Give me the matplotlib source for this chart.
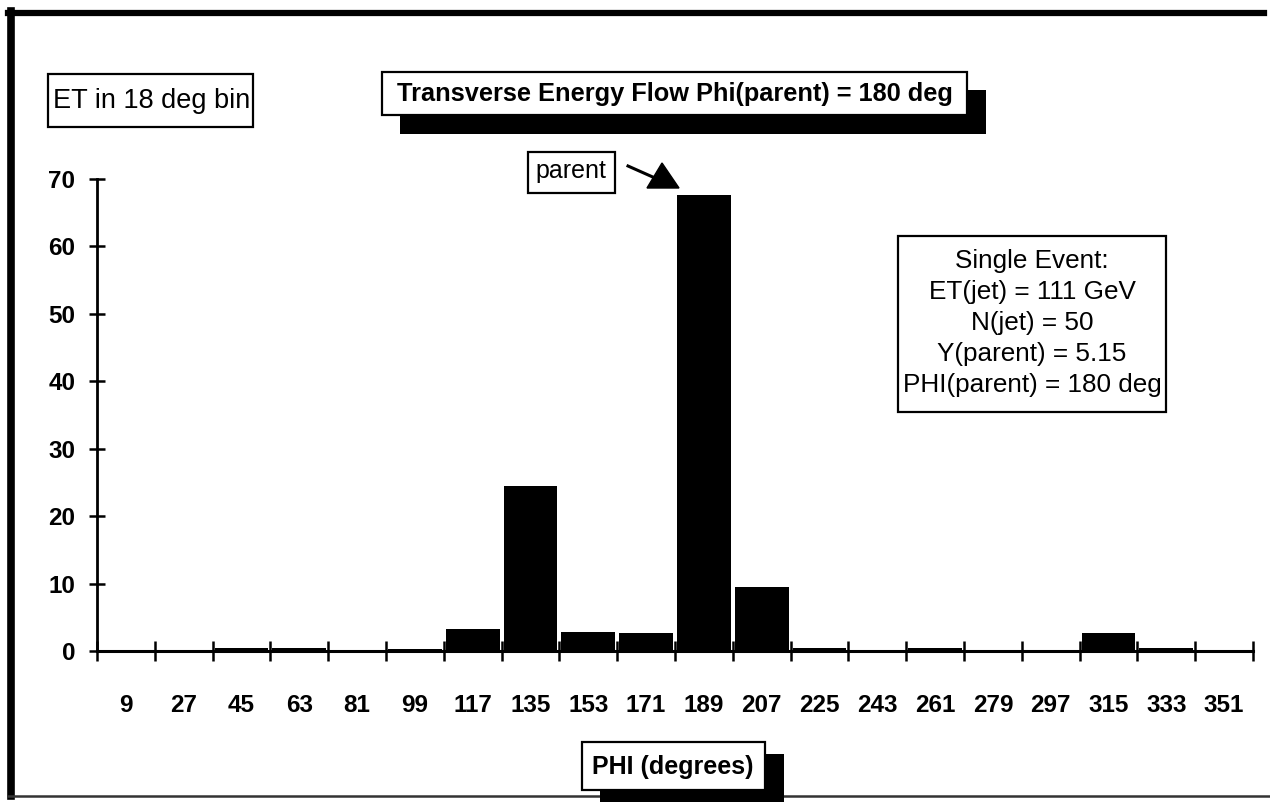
import matplotlib
matplotlib.use("Agg")
import matplotlib.pyplot as plt
from matplotlib.patches import Rectangle, Polygon
from matplotlib.lines import Line2D
import numpy as np

# ET per 18-degree phi bin for a single event
phi_labels = ["9", "27", "45", "63", "81", "99", "117", "135", "153", "171",
              "189", "207", "225", "243", "261", "279", "297", "315", "333", "351"]
et_values = [0.1, 0.1, 0.5, 0.4, 0.1, 0.3, 3.2, 24.5, 2.8, 2.7,
             67.6, 9.5, 0.5, 0.2, 0.4, 0.1, 0.2, 2.7, 0.5, 0.1]
y_ticks = [0, 10, 20, 30, 40, 50, 60, 70]

title_text = "Transverse Energy Flow Phi(parent) = 180 deg"
ylabel_text = "ET in 18 deg bin"
xlabel_text = "PHI (degrees)"
event_info = ["Single Event:", "ET(jet) = 111 GeV", "N(jet) = 50",
              "Y(parent) = 5.15", "PHI(parent) = 180 deg"]

W, H = 1270, 802
plt.rcParams["font.family"] = ["Liberation Sans", "DejaVu Sans"]
fig = plt.figure(figsize=(W / 100, H / 100), dpi=100)
fig.patch.set_facecolor("white")


def fx(x):
    return x / W


def fy(y):
    return 1 - y / H


def box(x0, y0, x1, y1, lw=1.6, fc="white", ec="black", z=5):
    r = Rectangle((fx(x0), fy(y1)), fx(x1) - fx(x0), fy(y0) - fy(y1),
                  transform=fig.transFigure, facecolor=fc, edgecolor=ec,
                  linewidth=lw, zorder=z)
    fig.add_artist(r)


# plot area
ax = fig.add_axes([fx(97), fy(651), fx(1253) - fx(97), fy(179) - fy(651)])
ax.set_xlim(0, 360)
ax.set_ylim(0, 70)

bin_width = 18
centers = np.arange(len(phi_labels)) * bin_width + bin_width / 2
ax.bar(centers, et_values, width=bin_width * 0.93, color="black",
       edgecolor="black", linewidth=0, zorder=3)

for s in ("top", "right"):
    ax.spines[s].set_visible(False)
ax.spines["left"].set_linewidth(2.0)
ax.spines["bottom"].set_linewidth(2.2)
ax.spines["left"].set_zorder(4)
ax.spines["bottom"].set_zorder(4)

ax.set_yticks(y_ticks)
ax.set_yticklabels([str(v) for v in y_ticks], fontsize=17.5, fontweight="bold")
ax.tick_params(axis="y", direction="inout", length=11.5, width=1.8, pad=10)

# labels at bin centres, tick marks at bin edges
ax.set_xticks(centers)
ax.set_xticklabels(phi_labels, fontsize=17.5, fontweight="bold")
ax.tick_params(axis="x", which="major", length=0, pad=31)
ax.set_xticks(np.arange(0, 361, bin_width), minor=True)
ax.tick_params(axis="x", which="minor", direction="inout", length=14, width=1.8)

# page frame
fig.add_artist(Line2D([fx(8), fx(1264)], [fy(13), fy(13)], transform=fig.transFigure,
                      color="black", linewidth=4.5))
fig.add_artist(Line2D([fx(11), fx(11)], [fy(11), fy(796)], transform=fig.transFigure,
                      color="black", linewidth=5.5))
fig.add_artist(Line2D([fx(8), fx(1270)], [fy(796), fy(796)], transform=fig.transFigure,
                      color="#333333", linewidth=1.8))

# y-axis caption box
box(48, 74, 253, 127)
fig.text(fx(152), fy(101), ylabel_text, fontsize=19.5, ha="center", va="center", zorder=6)

# title box with drop shadow
box(400, 90, 986, 134, lw=0, fc="black", z=4)
box(382, 72, 967, 115)
fig.text(fx(675), fy(94), title_text, fontsize=18.3, fontweight="bold",
         ha="center", va="center", zorder=6)

# parent marker
box(528, 152, 615, 193)
fig.text(fx(571), fy(171), "parent", fontsize=18, ha="center", va="center", zorder=6)
fig.add_artist(Line2D([fx(628), fx(655)], [fy(166), fy(178)], transform=fig.transFigure,
                      color="black", linewidth=2.2, zorder=6))
fig.add_artist(Polygon([(fx(662), fy(163)), (fx(647), fy(188)), (fx(679), fy(188))],
                       closed=True, transform=fig.transFigure, facecolor="black",
                       edgecolor="black", zorder=6))

# event information box
box(898, 236, 1166, 412)
fig.text(fx(1032), fy(323), "\n".join(event_info), fontsize=18.8, ha="center",
         va="center", linespacing=1.36, zorder=6)

# x-axis caption box with drop shadow
box(600, 754, 784, 802, lw=0, fc="black", z=4)
box(582, 742, 765, 790)
fig.text(fx(673), fy(767), xlabel_text, fontsize=18, fontweight="bold",
         ha="center", va="center", zorder=6)

fig.savefig("out.png", dpi=100, facecolor="white")
